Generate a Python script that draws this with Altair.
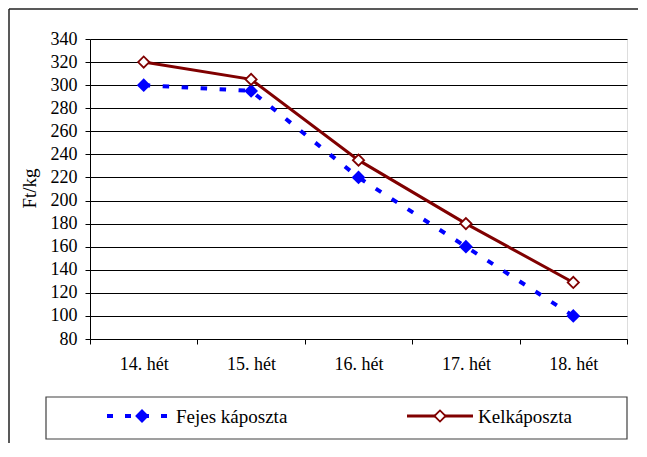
import altair as alt
import pandas as pd

weeks = ["14. hét", "15. hét", "16. hét", "17. hét", "18. hét"]
series_names = ["Fejes káposzta", "Kelkáposzta"]
fejes = [300, 295, 220, 160, 100]
kel = [320, 305, 235, 180, 129]
y_ticks = list(range(80, 341, 20))

df = pd.DataFrame({
    "week": weeks * 2,
    "series": [series_names[0]] * len(weeks) + [series_names[1]] * len(weeks),
    "value": fejes + kel,
})

W, H = 537, 300
FONT = "Liberation Serif"

styles = {
    "Fejes káposzta": dict(color="#0000FF", dash=[6.5, 12.5], width=4, fill="#0000FF",
                           size=190, pstroke=0, leg_x0=17, leg_x1=80, leg_pt=52, leg_tx=86),
    "Kelkáposzta": dict(color="#800000", dash=None, width=3, fill="#FFFFFF",
                        size=125, pstroke=1.8, leg_x0=317, leg_x1=383, leg_pt=350, leg_tx=388),
}

x_enc = alt.X(
    "week:N", sort=weeks, bandPosition=0.5,
    scale=alt.Scale(type="band", paddingInner=0, paddingOuter=0, domain=weeks),
    axis=alt.Axis(title=None, tickBand="extent", domainColor="#000", tickColor="#000",
                  tickSize=5, labelPadding=11, labelFontSize=18, labelColor="#000",
                  labelAngle=0, grid=False, labelFont=FONT),
)
y_enc = alt.Y(
    "value:Q",
    scale=alt.Scale(domain=[80, 340], nice=False, zero=False),
    axis=alt.Axis(values=y_ticks, title="Ft/kg", grid=True, gridColor="#000", gridWidth=1,
                  domainColor="#000", tickColor="#000", tickSize=5, labelPadding=8,
                  labelFontSize=18, labelColor="#000", labelFont=FONT,
                  titleFont=FONT, titleFontSize=19, titleFontWeight="normal", titleColor="#000",
                  titleX=-61, titleY=149, titleAngle=270, titleAlign="center",
                  titleBaseline="middle"),
)

one = pd.DataFrame({"k": [0]})

layers = []
# outer frame (only top and left edges fall inside the picture)
layers.append(
    alt.Chart(one).mark_rule(color="#222", strokeWidth=1.5).encode(
        x=alt.value(-81), x2=alt.value(560), y=alt.value(-30)
    )
)
layers.append(
    alt.Chart(one).mark_rule(color="#222", strokeWidth=1.5).encode(
        x=alt.value(-81), y=alt.value(-30), y2=alt.value(420)
    )
)

for name in series_names:
    s = styles[name]
    base = alt.Chart(df).transform_filter(alt.datum.series == name)
    line_kwargs = dict(color=s["color"], strokeWidth=s["width"], strokeCap="butt")
    if s["dash"]:
        line_kwargs["strokeDash"] = s["dash"]
    layers.append(base.mark_line(**line_kwargs).encode(x=x_enc, y=y_enc))
    layers.append(
        base.mark_point(shape="diamond", filled=True, fill=s["fill"], stroke=s["color"],
                        strokeWidth=s["pstroke"], size=s["size"], opacity=1)
        .encode(x=x_enc, y=y_enc)
    )

# legend box
layers.append(
    alt.Chart(one).mark_rect(fillOpacity=0, stroke="#404040", strokeWidth=1.2).encode(
        x=alt.value(-44), x2=alt.value(537), y=alt.value(358), y2=alt.value(400)
    )
)
leg_df = pd.DataFrame({"series": series_names})
for name in series_names:
    s = styles[name]
    lb = alt.Chart(leg_df).transform_filter(alt.datum.series == name)
    rk = dict(color=s["color"], strokeWidth=s["width"], strokeCap="butt")
    if s["dash"]:
        rk["strokeDash"] = [6, 12]
    layers.append(lb.mark_rule(**rk).encode(
        x=alt.value(s["leg_x0"]), x2=alt.value(s["leg_x1"]), y=alt.value(377)))
    layers.append(lb.mark_point(shape="diamond", filled=True, fill=s["fill"], stroke=s["color"],
                                strokeWidth=s["pstroke"], size=s["size"], opacity=1)
                  .encode(x=alt.value(s["leg_pt"]), y=alt.value(377)))
    layers.append(lb.mark_text(align="left", baseline="alphabetic", fontSize=19, font=FONT,
                               color="#000")
                  .encode(x=alt.value(s["leg_tx"]), y=alt.value(384), text="series:N"))

chart = alt.layer(*layers).properties(
    width=W, height=H,
    autosize=alt.AutoSizeParams(type="none"),
    padding={"left": 82, "top": 31, "right": 11, "bottom": 104},
).configure_view(stroke="#000", strokeWidth=1).configure(font=FONT)

chart.save("out.html", embed_options={"renderer": "svg", "actions": False})
